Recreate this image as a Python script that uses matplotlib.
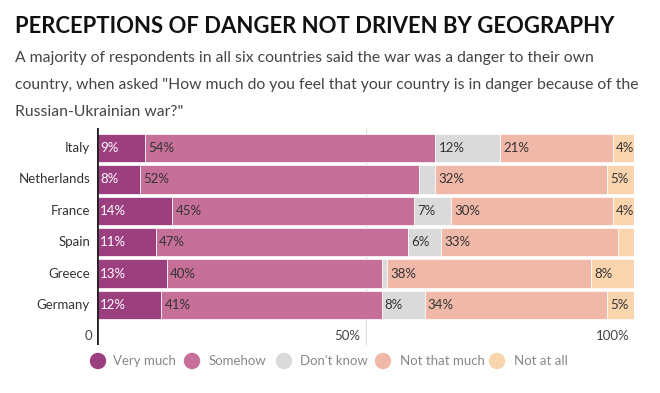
import matplotlib
matplotlib.use("Agg")
import matplotlib.pyplot as plt
import numpy as np

plt.rcParams['font.family'] = ['Lato', 'DejaVu Sans']

countries = ["Italy", "Netherlands", "France", "Spain", "Greece", "Germany"]
series_names = ["Very much", "Somehow", "Don't know", "Not that much", "Not at all"]
very_much = [9, 8, 14, 11, 13, 12]
somehow = [54, 52, 45, 47, 40, 41]
dont_know = [12, 3, 7, 6, 1, 8]
not_that_much = [21, 32, 30, 33, 38, 34]
not_at_all = [4, 5, 4, 3, 8, 5]
series = [very_much, somehow, dont_know, not_that_much, not_at_all]
colors = ["#9c3f7f", "#c66f98", "#dadada", "#f0b8a8", "#f9d4ad"]
xticks = [0, 50, 100]
xtick_labels = ["0", "50%", "100%"]

W, H = 660, 393
fig = plt.figure(figsize=(W / 100, H / 100), dpi=100)

def fx(px):
    return px / W

def fy(py):
    return 1 - py / H

fig.text(fx(15), fy(33), "PERCEPTIONS OF DANGER NOT DRIVEN BY GEOGRAPHY",
         fontsize=15.9, fontweight='bold', color='#111111', va='baseline')
fig.text(fx(15), fy(62), "A majority of respondents in all six countries said the war was a danger to their own",
         fontsize=11.3, color='#444444', va='baseline')
fig.text(fx(15), fy(89), "country, when asked \"How much do you feel that your country is in danger because of the",
         fontsize=11.3, color='#444444', va='baseline')
fig.text(fx(15), fy(116), "Russian-Ukrainian war?\"",
         fontsize=11.3, color='#444444', va='baseline')

ax_left, ax_right = 97, 634
ax_top, ax_bottom = 128, 345
ax = fig.add_axes([fx(ax_left), fy(ax_bottom), (ax_right - ax_left) / W, (ax_bottom - ax_top) / H])
ax.set_xlim(0, 100)
ax.set_ylim(6.274, -0.637)
ax.axis('off')

for xt in xticks[1:]:
    ax.axvline(xt, color='#dddddd', lw=0.8, zorder=0)

y = np.arange(len(countries))
left = np.zeros(len(countries))
for i, (vals, col) in enumerate(zip(series, colors)):
    vals = np.array(vals, dtype=float)
    ax.barh(y, vals, left=left, height=0.9, color=col, edgecolor='white', linewidth=0.5, zorder=2)
    for j, v in enumerate(vals):
        if v >= 4:
            ax.text(left[j] + 0.6, y[j], f"{int(v)}%", va='center', ha='left',
                    fontsize=9.5, color='white' if i == 0 else '#333333', zorder=3)
    left += vals

ax.axvline(0, color='#222222', lw=2, zorder=4)

for j, c in enumerate(countries):
    ax.text(-1.3, y[j], c, ha='right', va='center', fontsize=9.5, color='#333333')

for xt, lab in zip(xticks, xtick_labels):
    ax.text(xt - 0.9, 6.0, lab, ha='right', va='center', fontsize=9.5, color='#444444')

# legend
leg_y = fy(361)
circle_x = [98, 192, 284, 383, 497]
text_x = [113, 209, 300, 400, 514]
for cx, tx, name, col in zip(circle_x, text_x, series_names, colors):
    fig.add_artist(matplotlib.patches.Ellipse((fx(cx), leg_y), 15 / W, 15 / H,
                                              transform=fig.transFigure, color=col))
    fig.text(fx(tx), leg_y, name, fontsize=9.5, color='#888888', va='center', ha='left')

fig.savefig("out.png", dpi=100, facecolor='white')
